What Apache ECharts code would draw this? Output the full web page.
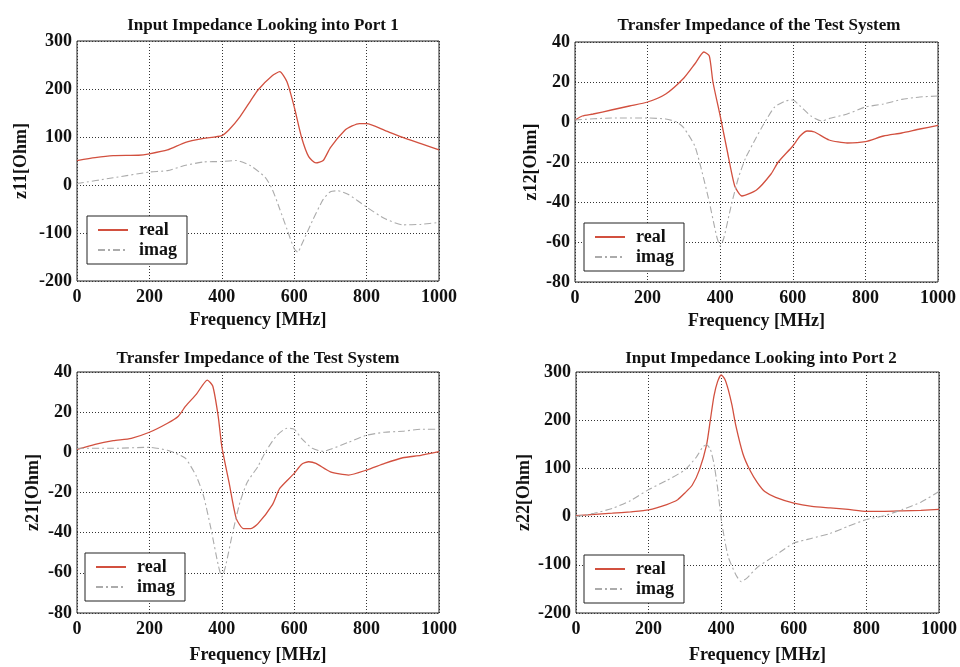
<!DOCTYPE html>
<html>
<head>
<meta charset="UTF-8">
<title>Impedance parameters</title>
<script src="https://cdn.jsdelivr.net/npm/echarts@6/dist/echarts.min.js"></script>
<style>
  body { margin: 0; background: #fff; }
  #main { width: 960px; height: 667px; }
</style>
</head>
<body>
<div id="main"></div>
<script>
// frequency [MHz] and value [Ohm]
var z11RealF = [0, 50, 100, 170, 200, 250, 300, 350, 400, 420, 450, 480, 500, 540, 560, 580, 600, 620, 640, 660, 680, 700, 740, 760, 780, 800, 850, 900, 950, 1000];
var z11RealV = [51, 57, 61, 62, 65, 73, 89, 97, 103, 115, 142, 176, 198, 228, 236, 215, 163, 100, 59, 46, 51, 78, 114, 123, 128, 128, 114, 99, 86, 73];
var z11ImagF = [0, 100, 200, 250, 300, 350, 400, 440, 480, 520, 540, 560, 580, 600, 610, 620, 650, 680, 700, 720, 750, 800, 850, 900, 950, 1000];
var z11ImagV = [3, 15, 27, 30, 41, 48, 49, 51, 40, 16, -10, -50, -92, -133, -140, -125, -75, -30, -14, -12, -20, -46, -70, -83, -82, -78];

var z12RealF = [0, 20, 50, 100, 150, 200, 250, 300, 330, 355, 370, 380, 400, 420, 440, 460, 500, 540, 560, 600, 620, 640, 660, 700, 750, 800, 850, 900, 950, 1000];
var z12RealV = [1, 3, 4, 6, 8, 10, 14, 22, 29, 35, 33, 20, 3, -15, -32, -37, -34, -26, -20, -12, -7, -4.5, -5, -9, -10.5, -9.8, -7, -5.5, -3.5, -1.7];
var z12ImagF = [0, 100, 200, 250, 280, 300, 330, 350, 370, 390, 400, 410, 430, 450, 470, 500, 520, 550, 580, 600, 620, 650, 680, 700, 750, 800, 850, 900, 950, 1000];
var z12ImagV = [1, 2, 2, 1.5, 0, -3, -12, -25, -40, -57, -62, -58, -42, -28, -18, -7.5, -1, 7.5, 10.5, 11, 8, 3, 0.5, 1.7, 4, 7.5, 9, 11.3, 12.5, 13];

var z21RealF = [0, 50, 100, 150, 200, 250, 280, 300, 330, 360, 375, 390, 400, 420, 440, 460, 480, 500, 540, 560, 600, 620, 640, 660, 700, 750, 800, 850, 900, 950, 1000];
var z21RealV = [1.5, 4, 5.8, 7, 10, 14.5, 18, 23, 29, 36, 33, 18, 3, -15, -33, -38, -38, -35.5, -26, -18, -10.5, -6, -4.7, -5.5, -9.7, -11.3, -8.8, -5.5, -2.7, -1.5, 0.3];
var z21ImagF = [0, 100, 200, 250, 280, 300, 330, 350, 370, 390, 400, 410, 430, 450, 470, 500, 520, 550, 580, 600, 620, 650, 680, 700, 750, 800, 850, 900, 950, 1000];
var z21ImagV = [2, 2, 2.5, 1, -1, -3, -12, -22, -38, -56, -62, -57, -40, -25, -15, -7, 0, 8, 12, 11.5, 7, 2, 0.5, 1.5, 5, 8.5, 10, 10.5, 11.5, 11.5];

var z22RealF = [0, 100, 150, 200, 250, 280, 300, 320, 340, 360, 370, 380, 390, 400, 410, 420, 430, 440, 460, 480, 500, 520, 550, 600, 650, 700, 750, 800, 850, 900, 950, 1000];
var z22RealV = [2, 7, 10, 14, 25, 35, 49, 65, 97, 150, 200, 250, 280, 294, 285, 262, 230, 190, 130, 95, 70, 52, 40, 28, 21, 18, 15, 11, 11, 12, 13, 15];
var z22ImagF = [0, 50, 100, 150, 200, 250, 300, 330, 350, 360, 370, 380, 390, 400, 410, 420, 440, 455, 470, 500, 550, 600, 650, 700, 750, 800, 850, 900, 950, 1000];
var z22ImagV = [0, 7, 17, 33, 56, 75, 97, 122, 145, 149, 140, 110, 60, -5, -50, -85, -120, -135, -128, -105, -80, -55, -45, -35, -20, -6, 2, 15, 30, 52];

var xTicks = { min: 0, max: 1000, interval: 200 };
var titles = ['Input Impedance Looking into Port 1', 'Transfer Impedance of the Test System',
              'Transfer Impedance of the Test System', 'Input Impedance Looking into Port 2'];
var yNames = ['z11[Ohm]', 'z12[Ohm]', 'z21[Ohm]', 'z22[Ohm]'];
var yRanges = [[-200, 300, 100], [-80, 40, 20], [-80, 40, 20], [-200, 300, 100]];

function pairs(f, v) {
    var out = [];
    for (var i = 0; i < f.length; i++) out.push([f[i], v[i]]);
    return out;
}

var font = "'Liberation Serif', 'DejaVu Serif', serif";
var realColor = '#d2503f';
var imagColor = '#ababab';

var grids = [
    { left: 77, top: 41, width: 362, height: 240 },
    { left: 575, top: 42, width: 363, height: 240 },
    { left: 77, top: 372, width: 362, height: 241 },
    { left: 576, top: 372, width: 363, height: 241 }
];
var titlePos = [[258, 12], [754, 12], [253, 345], [756, 345]];
var yNameGap = [47, 35, 35, 43];
var xNameGap = [30, 30, 33, 33];
var legendPos = [[87, 216], [584, 223], [85, 553], [584, 555]];

var data = [
    [pairs(z11RealF, z11RealV), pairs(z11ImagF, z11ImagV)],
    [pairs(z12RealF, z12RealV), pairs(z12ImagF, z12ImagV)],
    [pairs(z21RealF, z21RealV), pairs(z21ImagF, z21ImagV)],
    [pairs(z22RealF, z22RealV), pairs(z22ImagF, z22ImagV)]
];

var option = {
    backgroundColor: '#fff',
    animation: false,
    title: [], grid: [], xAxis: [], yAxis: [], legend: [], series: []
};

for (var k = 0; k < 4; k++) {
    option.title.push({
        text: titles[k],
        left: titlePos[k][0], top: titlePos[k][1],
        textAlign: 'center',
        textStyle: { fontFamily: font, fontSize: 17, fontWeight: 'bold', color: '#111' }
    });
    option.grid.push(Object.assign({ show: true, borderColor: '#222', borderWidth: 1, backgroundColor: '#fff' }, grids[k]));
    option.xAxis.push({
        type: 'value', gridIndex: k,
        min: xTicks.min, max: xTicks.max, interval: xTicks.interval,
        name: 'Frequency [MHz]', nameLocation: 'middle', nameGap: xNameGap[k],
        nameTextStyle: { fontFamily: font, fontSize: 18, fontWeight: 'bold', color: '#111' },
        axisLine: { show: false },
        axisTick: { show: false },
        axisLabel: { fontFamily: font, fontSize: 18, fontWeight: 'bold', color: '#111', margin: 7,
                     formatter: function (v) { return String(v); } },
        splitLine: { show: true, lineStyle: { color: '#333', type: [1, 2], width: 1 } }
    });
    option.yAxis.push({
        type: 'value', gridIndex: k,
        min: yRanges[k][0], max: yRanges[k][1], interval: yRanges[k][2],
        name: yNames[k], nameLocation: 'middle', nameGap: yNameGap[k], nameRotate: 90,
        nameTextStyle: { fontFamily: font, fontSize: 18, fontWeight: 'bold', color: '#111' },
        axisLine: { show: false },
        axisTick: { show: false },
        axisLabel: { fontFamily: font, fontSize: 18, fontWeight: 'bold', color: '#111', margin: 5 },
        splitLine: { show: true, lineStyle: { color: '#333', type: [1, 2], width: 1 } }
    });
    option.legend.push({
        data: ['real', 'imag'],
        orient: 'vertical',
        left: legendPos[k][0], top: legendPos[k][1],
        backgroundColor: '#fff', borderColor: '#222', borderWidth: 1, borderRadius: 0,
        padding: [5, 10, 5, 10],
        itemWidth: 30, itemHeight: 10, itemGap: 2,
        itemStyle: { opacity: 0 },
        selectedMode: false,
        textStyle: { fontFamily: font, fontSize: 18, fontWeight: 'bold', color: '#111', padding: [0, 0, 0, 6] }
    });
    option.series.push({
        name: 'real', type: 'line', xAxisIndex: k, yAxisIndex: k,
        data: data[k][0], symbol: 'none', smooth: 0.2,
        lineStyle: { color: realColor, width: 1.3 }, itemStyle: { color: realColor }
    });
    option.series.push({
        name: 'imag', type: 'line', xAxisIndex: k, yAxisIndex: k,
        data: data[k][1], symbol: 'none', smooth: 0.2,
        lineStyle: { color: imagColor, width: 1.1, type: [7, 3, 2, 3] }, itemStyle: { color: imagColor }
    });
}

var chart = echarts.init(document.getElementById('main'));
chart.setOption(option);
</script>
</body>
</html>
